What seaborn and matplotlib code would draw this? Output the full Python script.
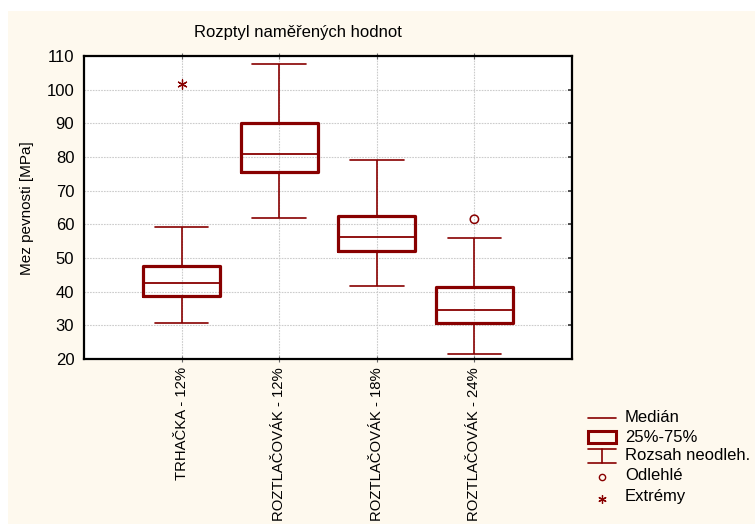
import numpy as np
import pandas as pd
import matplotlib
matplotlib.use("Agg")
import matplotlib.pyplot as plt
from matplotlib.lines import Line2D
from matplotlib.patches import Rectangle
import seaborn as sns

# Five-number summaries of the measured strength per group
categories = ["TRHAČKA - 12%", "ROZTLAČOVÁK - 12%", "ROZTLAČOVÁK - 18%", "ROZTLAČOVÁK - 24%"]
whisker_low = [30.6, 62.0, 41.8, 21.6]
quartile_1 = [38.8, 75.4, 52.0, 30.7]
median = [42.5, 81.0, 56.3, 34.6]
quartile_3 = [47.5, 90.1, 62.6, 41.4]
whisker_high = [59.3, 107.5, 79.1, 55.9]

# Points outside the whisker range
outlier_groups = ["ROZTLAČOVÁK - 24%"]
outlier_values = [61.5]
extreme_groups = ["TRHAČKA - 12%"]
extreme_values = [101.7]

y_ticks = [20, 30, 40, 50, 60, 70, 80, 90, 100, 110]

title = "Rozptyl naměřených hodnot"
y_label = "Mez pevnosti [MPa]"
legend_labels = ["Medián", "25%-75%", "Rozsah neodleh.", "Odlehlé", "Extrémy"]

RED = "#880000"
CREAM = "#FEF9EE"
W, H = 755, 524

sns.set_style("white")
plt.rcParams["font.family"] = ["Liberation Sans", "DejaVu Sans"]
plt.rcParams["font.size"] = 12
plt.rcParams["text.color"] = "black"
plt.rcParams["axes.labelcolor"] = "black"
plt.rcParams["xtick.labelcolor"] = "black"
plt.rcParams["ytick.labelcolor"] = "black"

rows = []
for cat, lo, a, m, b, hi in zip(categories, whisker_low, quartile_1, median, quartile_3, whisker_high):
    for v in (lo, a, m, b, hi):
        rows.append({"skupina": cat, "hodnota": v})
df = pd.DataFrame(rows)

fig = plt.figure(figsize=(W / 100, H / 100), dpi=100, facecolor="white")


def fx(x):
    return x / W


def fy(y):
    return 1 - y / H


fig.add_artist(Rectangle((fx(8), 0), 1, fy(11), transform=fig.transFigure,
                         facecolor=CREAM, edgecolor="none", zorder=0))

ax = fig.add_axes([fx(84), fy(359), fx(572) - fx(84), fy(56) - fy(359)])
ax.set_facecolor("white")

sns.boxplot(data=df, x="skupina", y="hodnota", order=categories, ax=ax,
            whis=np.inf, showfliers=False, fill=False, width=0.79,
            linecolor=RED, linewidth=1.2, capwidths=0.55,
            boxprops=dict(linewidth=2.3, color=RED),
            medianprops=dict(linewidth=1.3, color=RED),
            whiskerprops=dict(linewidth=1.2, color=RED),
            capprops=dict(linewidth=1.2, color=RED))

out_x = [categories.index(g) for g in outlier_groups]
ext_x = [categories.index(g) for g in extreme_groups]
ax.scatter(out_x, outlier_values, s=36, marker="o", facecolors="none",
           edgecolors=RED, linewidths=1.1, zorder=5)
ax.scatter(ext_x, extreme_values, s=45, marker=(6, 2, 0), color=RED,
           linewidths=0.9, zorder=5)

ax.set_xlim(-1, 4)
ax.set_ylim(20, 110)
ax.set_yticks(y_ticks)
ax.set_xticks(range(len(categories)))
ax.set_xticklabels(categories, rotation=90, va="top", ha="center", fontsize=10.7,
                   color="black")
ax.set_xlabel("")
ax.grid(True, color="#CCCCCC", linestyle=(0, (1.5, 1.0)), linewidth=0.8)
ax.set_axisbelow(True)

for s in ax.spines.values():
    s.set_visible(True)
    s.set_color("black")
    s.set_linewidth(1.6)

ax.tick_params(axis="y", left=False, right=True, direction="in", length=3,
               width=1.2, color="#333333", pad=7, labelsize=12, labelcolor="black")
ax.tick_params(axis="x", bottom=True, top=True, direction="inout", length=4,
               width=0.8, color="#666666", pad=4, labelcolor="black")

ax.set_ylabel(y_label, va="center", fontsize=11, color="black")
ax.yaxis.set_label_coords(fx(27), fy(208), transform=fig.transFigure)

ax.set_title(title, x=(298 - 84) / (572 - 84), y=1 + 19 / (359 - 56), pad=0,
             fontsize=12, va="baseline", color="black")

# Legend explaining the box elements
lx0, lx1, lxc, tx = 588, 616, 602, 625
fig.add_artist(Line2D([fx(lx0), fx(lx1)], [fy(418), fy(418)], color=RED, lw=1.2,
                      transform=fig.transFigure))
fig.add_artist(Rectangle((fx(lx0), fy(443)), fx(lx1) - fx(lx0), fy(431) - fy(443),
                         transform=fig.transFigure, facecolor="none",
                         edgecolor=RED, lw=2.2))
fig.add_artist(Line2D([fx(lx0), fx(lx1)], [fy(449), fy(449)], color=RED, lw=1.2,
                      transform=fig.transFigure))
fig.add_artist(Line2D([fx(lxc), fx(lxc)], [fy(449), fy(463)], color=RED, lw=1.2,
                      transform=fig.transFigure))
fig.add_artist(Line2D([fx(lx0), fx(lx1)], [fy(463), fy(463)], color=RED, lw=1.2,
                      transform=fig.transFigure))
fig.add_artist(Line2D([fx(lxc)], [fy(477)], marker="o", markersize=4.5,
                      markerfacecolor="none", markeredgecolor=RED, mew=1.0,
                      transform=fig.transFigure))
fig.add_artist(Line2D([fx(lxc)], [fy(499)], marker=(6, 2, 0), markersize=6,
                      color=RED, mew=0.9, transform=fig.transFigure))
for label, y in zip(legend_labels, [418, 437, 456, 476, 497]):
    fig.text(fx(tx), fy(y), label, va="center", ha="left", fontsize=12, color="black")

fig.savefig("out.png", dpi=100, facecolor=fig.get_facecolor())
